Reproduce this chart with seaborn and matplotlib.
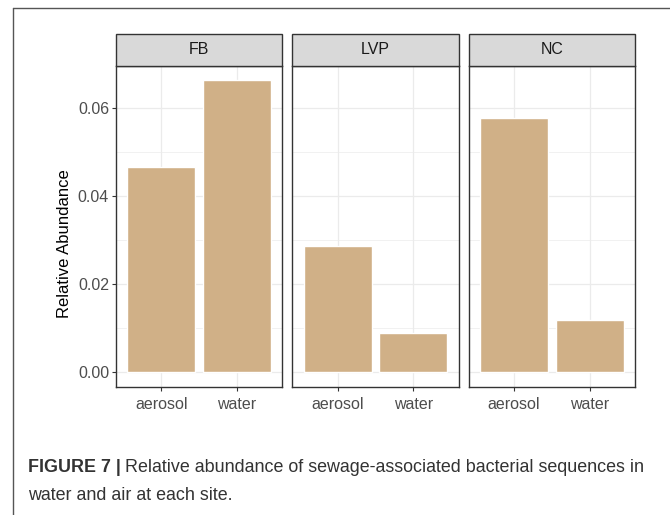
import numpy as np
import pandas as pd
import seaborn as sns
import matplotlib.pyplot as plt
from matplotlib.patches import Rectangle
from matplotlib.lines import Line2D

sns.set_theme(style="white")
plt.rcParams["font.family"] = ["Liberation Sans", "DejaVu Sans"]

# data
sites = ["FB", "LVP", "NC"]
sample_types = ["aerosol", "water"]
abundance = {
    "FB": [0.0466, 0.0664],
    "LVP": [0.0286, 0.0089],
    "NC": [0.0577, 0.0118],
}
y_ticks = [0.00, 0.02, 0.04, 0.06]

bar_color = "#D0B087"

df = pd.DataFrame(
    [(s, t, v) for s in sites for t, v in zip(sample_types, abundance[s])],
    columns=["site", "type", "value"],
)

W, H = 670, 515
fig, axes = plt.subplots(1, 3, figsize=(W / 100, H / 100), dpi=100, sharey=True)
fig.subplots_adjust(left=116 / W, right=635 / W, top=1 - 66 / H,
                    bottom=1 - 387 / H, wspace=10 / 166)

for ax, site in zip(axes, sites):
    sub = df[df["site"] == site]
    # grid first so bars sit over it
    for yv in np.arange(-0.01, 0.08, 0.01):
        ax.axhline(yv, color="#EBEBEB", lw=0.9 if round(yv * 100) % 2 == 0 else 0.5, zorder=0)
    for xv in [0, 1]:
        ax.axvline(xv, color="#EBEBEB", lw=0.9, zorder=0)
    sns.barplot(data=sub, x="type", y="value", color=bar_color, width=0.9,
                saturation=1, ax=ax, zorder=2, order=sample_types)
    ax.set_xlim(-0.6, 1.6)
    ax.set_ylim(-0.0034, 0.0695)
    ax.set_yticks(y_ticks)
    ax.set_yticklabels([f"{v:.2f}" for v in y_ticks])
    ax.set_xlabel("")
    ax.set_ylabel("")
    for sp in ax.spines.values():
        sp.set_color("#333333")
        sp.set_linewidth(1.0)
    ax.tick_params(axis="both", direction="out", length=3, width=0.8,
                   color="#333333", labelcolor="#4D4D4D", labelsize=11.5, pad=2)
    ax.tick_params(axis="x", bottom=True, pad=4)
    ax.tick_params(axis="y", left=True)
    # facet strip
    strip_h = 32 / 321
    ax.add_patch(Rectangle((0, 1), 1, strip_h, transform=ax.transAxes,
                           facecolor="#D9D9D9", edgecolor="#333333", lw=1.0,
                           clip_on=False, zorder=5))
    ax.text(0.5, 1 + strip_h / 2, site, transform=ax.transAxes, ha="center",
            va="center", fontsize=11.5, color="#1A1A1A", zorder=6)

for ax in axes[1:]:
    ax.tick_params(axis="y", left=False, labelleft=False)

axes[0].set_ylabel("Relative Abundance", fontsize=12, color="#000000")
axes[0].yaxis.set_label_coords((72 - 116) / 166, (387 - 244) / 321)

# page frame lines
fig.add_artist(Line2D([13 / W, 1], [1 - 8 / H, 1 - 8 / H], color="#555555", lw=1.0))
fig.add_artist(Line2D([13 / W, 13 / W], [0, 1 - 8 / H], color="#555555", lw=1.0))

# caption
cap_size = 12.9
t1 = fig.text(28 / W, 1 - 467 / H, "FIGURE 7 |", fontsize=cap_size, fontweight="bold",
              color="#333333", va="center", ha="left")
renderer = fig.canvas.get_renderer()
x1 = t1.get_window_extent(renderer).x1
fig.text((x1 + 4) / W, 1 - 467 / H,
         "Relative abundance of sewage-associated bacterial sequences in",
         fontsize=cap_size, color="#333333", va="center", ha="left")
fig.text(28 / W, 1 - 496 / H, "water and air at each site.", fontsize=cap_size,
         color="#333333", va="center", ha="left")

fig.savefig("out.png", dpi=100)
